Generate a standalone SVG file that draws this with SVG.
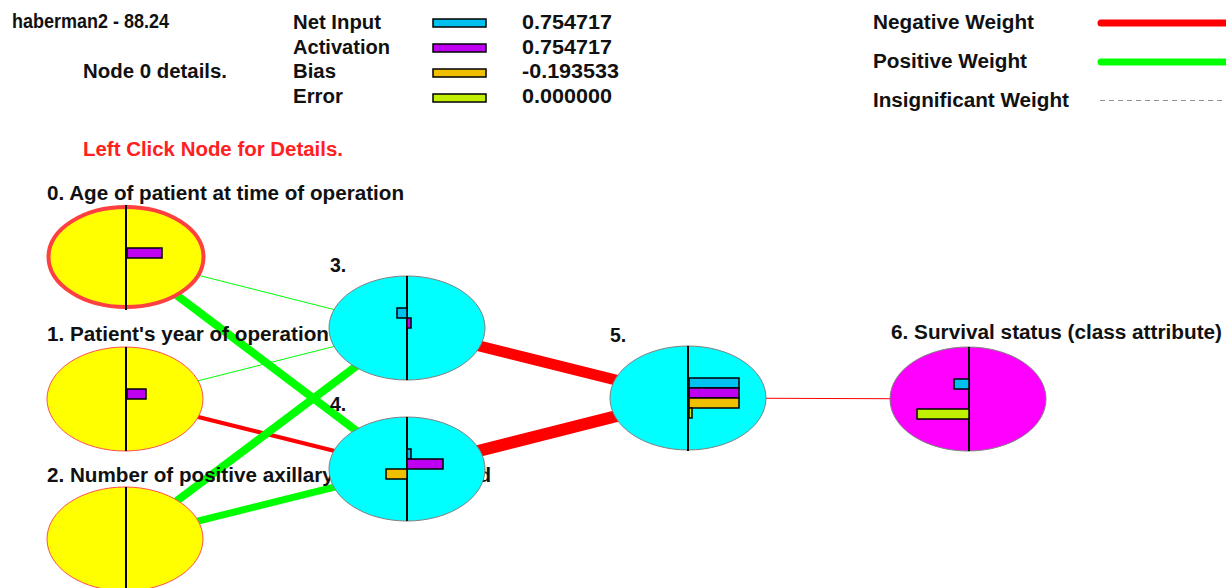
<svg xmlns="http://www.w3.org/2000/svg" width="1226" height="588" viewBox="0 0 1226 588">
<style>
text{font-family:"Liberation Sans",Arial,sans-serif;font-weight:bold;font-size:19.5px;fill:#111}
.red{fill:#ff2020}
.in{fill:#ffff00;stroke:#ff5050;stroke-width:1}
.hid{fill:#00ffff;stroke:#808080;stroke-width:1}
.out{fill:#ff00ff;stroke:#808080;stroke-width:1}
.axis{stroke:#000;stroke-width:2}
.bar{stroke:#000;stroke-width:1.5}
.ni{fill:#00c0f0}.ac{fill:#c000f0}.bi{fill:#f0c000}.er{fill:#c0f000}
.pos{stroke:#00ff00;fill:none}
.neg{stroke:#ff0000;fill:none}
</style>
<rect width="1226" height="588" fill="#fff"/>
<g id="legend">
<text x="12" y="28" textLength="157" lengthAdjust="spacingAndGlyphs">haberman2 - 88.24</text>
<text x="83" y="78" textLength="144" lengthAdjust="spacingAndGlyphs">Node 0 details.</text>
<text x="293" y="29" textLength="88" lengthAdjust="spacingAndGlyphs">Net Input</text>
<text x="293" y="54" textLength="97" lengthAdjust="spacingAndGlyphs">Activation</text>
<text x="293" y="78" textLength="43" lengthAdjust="spacingAndGlyphs">Bias</text>
<text x="293" y="103" textLength="50" lengthAdjust="spacingAndGlyphs">Error</text>
<rect class="bar ni" x="433" y="19" width="53" height="8"/>
<rect class="bar ac" x="433" y="44" width="53" height="8"/>
<rect class="bar bi" x="433" y="69" width="53" height="8"/>
<rect class="bar er" x="433" y="94" width="53" height="8"/>
<text x="522" y="29" textLength="90" lengthAdjust="spacingAndGlyphs">0.754717</text>
<text x="522" y="54" textLength="90" lengthAdjust="spacingAndGlyphs">0.754717</text>
<text x="522" y="78" textLength="97" lengthAdjust="spacingAndGlyphs">-0.193533</text>
<text x="522" y="103" textLength="90" lengthAdjust="spacingAndGlyphs">0.000000</text>
<text x="873" y="29" textLength="161" lengthAdjust="spacingAndGlyphs">Negative Weight</text>
<text x="873" y="68" textLength="154" lengthAdjust="spacingAndGlyphs">Positive Weight</text>
<text x="873" y="107" textLength="196" lengthAdjust="spacingAndGlyphs">Insignificant Weight</text>
<line x1="1101" y1="23" x2="1240" y2="23" stroke="#ff0000" stroke-width="7" stroke-linecap="round"/>
<line x1="1101" y1="62" x2="1240" y2="62" stroke="#00ff00" stroke-width="7" stroke-linecap="round"/>
<line x1="1100" y1="100.5" x2="1226" y2="100.5" stroke="#909090" stroke-width="1" stroke-dasharray="5,4"/>
<text class="red" x="83" y="156" textLength="260" lengthAdjust="spacingAndGlyphs">Left Click Node for Details.</text>
</g>
<g id="connectors">
<line class="pos" x1="126" y1="257" x2="407" y2="328" stroke-width="1"/>
<line class="pos" x1="126" y1="257" x2="407" y2="469" stroke-width="8"/>
<line class="pos" x1="126" y1="399" x2="407" y2="328" stroke-width="1"/>
<line class="neg" x1="126" y1="399" x2="407" y2="469" stroke-width="4"/>
<line class="pos" x1="126" y1="539" x2="407" y2="328" stroke-width="8"/>
<line class="pos" x1="126" y1="539" x2="407" y2="469" stroke-width="7"/>
<line class="neg" x1="407" y1="328" x2="688" y2="398" stroke-width="11"/>
<line class="neg" x1="407" y1="469" x2="688" y2="398" stroke-width="12"/>
<line class="neg" x1="688" y1="398" x2="968" y2="399" stroke-width="1"/>
</g>
<g id="labels">
<text x="47" y="200" textLength="357" lengthAdjust="spacingAndGlyphs">0. Age of patient at time of operation</text>
<text x="47" y="341" textLength="282" lengthAdjust="spacingAndGlyphs">1. Patient's year of operation</text>
<text x="47" y="482" textLength="444" lengthAdjust="spacingAndGlyphs">2. Number of positive axillary nodes detected</text>
<text x="330" y="272">3.</text>
<text x="330" y="411">4.</text>
<text x="610" y="342">5.</text>
<text x="891" y="339" textLength="331" lengthAdjust="spacingAndGlyphs">6. Survival status (class attribute)</text>
</g>
<g id="node0">
<ellipse cx="126" cy="257" rx="77.5" ry="50" fill="#ffff00" stroke="#ff4040" stroke-width="4"/>
<line class="axis" x1="126" y1="205" x2="126" y2="310"/>
<rect class="bar ac" x="127" y="248" width="35" height="10"/>
</g>
<g id="node1">
<ellipse class="in" cx="125" cy="399" rx="78" ry="52"/>
<line class="axis" x1="126" y1="347" x2="126" y2="451"/>
<rect class="bar ac" x="127" y="389" width="19" height="10"/>
</g>
<g id="node2">
<ellipse class="in" cx="125" cy="539" rx="78" ry="52"/>
<line class="axis" x1="126" y1="487" x2="126" y2="591"/>
</g>
<g id="node3">
<ellipse class="hid" cx="407" cy="328" rx="78" ry="52"/>
<line class="axis" x1="407" y1="276" x2="407" y2="380"/>
<rect class="bar ni" x="397" y="308" width="10" height="10"/>
<rect class="bar ac" x="407" y="318" width="4" height="10"/>
</g>
<g id="node4">
<ellipse class="hid" cx="407" cy="469" rx="78" ry="52"/>
<line class="axis" x1="407" y1="417" x2="407" y2="521"/>
<rect class="bar ni" x="407" y="449" width="4" height="10"/>
<rect class="bar ac" x="407" y="459" width="36" height="10"/>
<rect class="bar bi" x="386" y="469" width="21" height="10"/>
</g>
<g id="node5">
<ellipse class="hid" cx="688" cy="398" rx="78" ry="52"/>
<line class="axis" x1="688" y1="346" x2="688" y2="451"/>
<rect class="bar ni" x="689" y="378" width="50" height="10"/>
<rect class="bar ac" x="689" y="388" width="50" height="10"/>
<rect class="bar bi" x="689" y="398" width="50" height="10"/>
<rect class="bar er" x="689" y="408" width="3" height="10"/>
</g>
<g id="node6">
<ellipse class="out" cx="968" cy="399" rx="78" ry="52"/>
<line class="axis" x1="969" y1="347" x2="969" y2="451"/>
<rect class="bar ni" x="954" y="379" width="15" height="10"/>
<rect class="bar er" x="917" y="409" width="52" height="10"/>
</g>
</svg>
